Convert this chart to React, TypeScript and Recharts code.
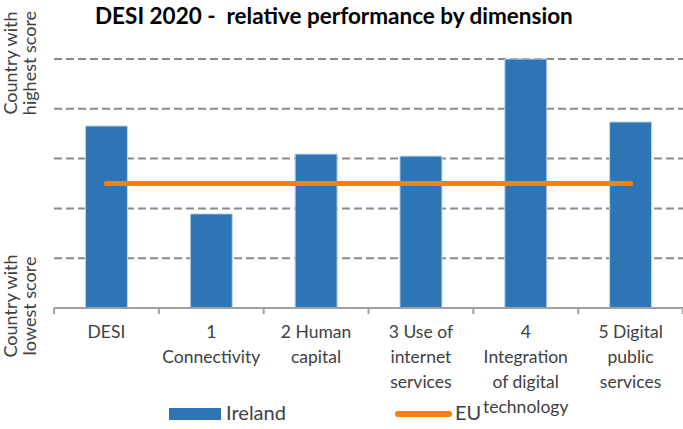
import { ComposedChart, Bar, Line, XAxis, YAxis, CartesianGrid, Legend } from 'recharts'

const categories = ['DESI', '1 Connectivity', '2 Human capital', '3 Use of internet services', '4 Integration of digital technology', '5 Digital public services']
const labelLines = [['DESI'], ['1', 'Connectivity'], ['2 Human', 'capital'], ['3 Use of', 'internet', 'services'], ['4', 'Integration', 'of digital', 'technology'], ['5 Digital', 'public', 'services']]
const irelandValues = [0.731, 0.378, 0.618, 0.61, 1.0, 0.747]
const euValues = [0.5, 0.5, 0.5, 0.5, 0.5, 0.5]
const yTicks = [0, 0.2, 0.4, 0.6, 0.8, 1]

const FONT = 'Lato, "Open Sans", sans-serif'
const W = 683
const H = 429
const PLOT_LEFT = 54
const STEP = (W - PLOT_LEFT) / categories.length

const data = categories.map((c, i) => ({ name: c, Ireland: irelandValues[i], EU: euValues[i] }))

const XTick = ({ x, y, index }: any) => {
  const lines = labelLines[index] || []
  return (
    <g>
      <line x1={x - STEP / 2} x2={x - STEP / 2} y1={y} y2={y + 6} stroke="#a0a0a0" strokeWidth={2} />
      {index === categories.length - 1 && (
        <line x1={x + STEP / 2} x2={x + STEP / 2} y1={y} y2={y + 6} stroke="#a0a0a0" strokeWidth={2} />
      )}
      {lines.map((l: string, i: number) => (
        <text key={i} x={x} y={y + 30 + i * 25} textAnchor="middle" fontSize={17.5} fill="#404040" fontFamily={FONT}>
          {l}
        </text>
      ))}
    </g>
  )
}

const YTick = ({ y, payload }: any) => {
  let lines: string[] | null = null
  let cy = y
  if (payload.value === 1) { lines = ['Country with', 'highest score']; cy = y + 4 }
  if (payload.value === 0) { lines = ['Country with', 'lowest score']; cy = y - 2 }
  if (!lines) return <g />
  return (
    <g>
      {lines.map((l, i) => {
        const tx = 17 + i * 19
        return (
          <text key={i} x={tx} y={cy} textAnchor="middle" fontSize={18} fill="#404040" fontFamily={FONT}
            transform={`rotate(-90, ${tx}, ${cy})`}>
            {l}
          </text>
        )
      })}
    </g>
  )
}

const LegendContent = () => (
  <div style={{ position: 'relative', height: 36, fontFamily: FONT, fontSize: 20, color: '#404040' }}>
    <div style={{ position: 'absolute', left: 169, top: 15, width: 52, height: 12, background: '#2E75B6' }} />
    <span style={{ position: 'absolute', left: 226, top: 7 }}>Ireland</span>
    <div style={{ position: 'absolute', left: 395, top: 18, width: 57, height: 6, borderRadius: 3, background: '#FF8000' }} />
    <span style={{ position: 'absolute', left: 455, top: 7 }}>EU</span>
  </div>
)

export default function App() {
  return (
    <div style={{ position: 'absolute', left: 0, top: 0, width: W, height: H, background: '#fff' }}>
      <div style={{ position: 'absolute', left: 95, top: 2, fontFamily: FONT, fontWeight: 700, fontSize: 22.5, color: '#000', whiteSpace: 'pre', zIndex: 2 }}>
        DESI 2020 -  relative performance by dimension
      </div>
      <ComposedChart width={W} height={H} data={data} margin={{ top: 59, right: 0, left: 0, bottom: 0 }} barCategoryGap="30%">
        <CartesianGrid vertical={false} stroke="#8a8a8a" strokeWidth={2} strokeDasharray="8 4" />
        <XAxis dataKey="name" interval={0} height={85} tickLine={false} tickSize={0} tickMargin={0}
          axisLine={{ stroke: '#a0a0a0', strokeWidth: 2 }} tick={<XTick />} />
        <YAxis domain={[0, 1]} ticks={yTicks} width={PLOT_LEFT} axisLine={false} tickLine={false} tick={<YTick />} />
        <Legend verticalAlign="bottom" height={36} content={<LegendContent />}
          wrapperStyle={{ left: 0, width: W, bottom: 0 }} />
        <Bar dataKey="Ireland" fill="#2E75B6" stroke="#BDD7EE" strokeWidth={1} isAnimationActive={false} />
        <Line dataKey="EU" type="linear" stroke="#FF8000" strokeWidth={5} strokeLinecap="round" dot={false} activeDot={false} isAnimationActive={false} />
      </ComposedChart>
    </div>
  )
}
